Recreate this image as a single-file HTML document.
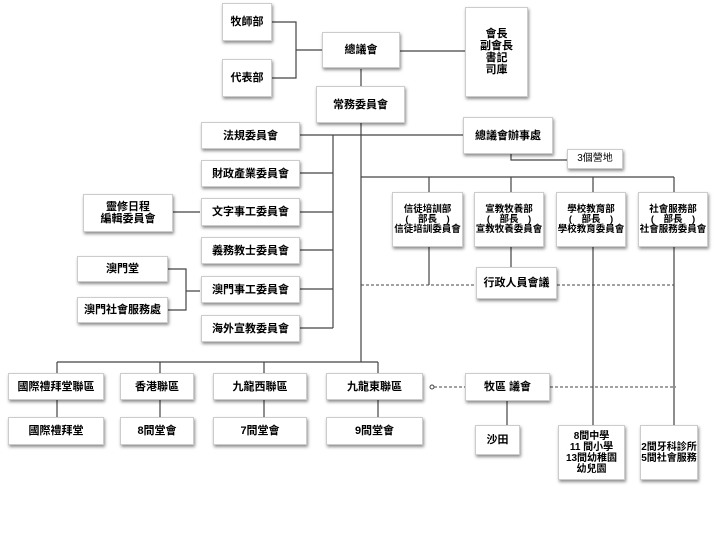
<!DOCTYPE html>
<html><head><meta charset="utf-8"><style>
body{margin:0;width:720px;height:541px;background:#fff;position:relative;overflow:hidden;font-family:"Liberation Sans","Noto Sans CJK TC",sans-serif;}
.b{position:absolute;background:#fff;border:1px solid #ccc;box-shadow:1px 2px 3px rgba(0,0,0,.45);display:flex;align-items:center;justify-content:center;text-align:center;font-size:11px;font-weight:bold;color:#000;line-height:12px;box-sizing:border-box;}
.s{font-size:9.5px;line-height:10px;font-weight:bold}
svg{position:absolute;left:0;top:0}
</style></head><body>
<svg width="720" height="541">
<g stroke="#444" stroke-width="1.2" fill="none">
<path d="M272 22H296V78H272M296 50H322"/>
<path d="M400 51H465"/>
<path d="M361 69V362"/>
<path d="M300 135H463"/>
<path d="M511 154V160H567"/>
<path d="M300 173H333M300 212H333M300 250H333M300 289H333M300 328H333M333 135V328"/>
<path d="M173 212H200"/>
<path d="M168 269H186V310H168M186 291H200"/>
<path d="M361 177H674M429 177V192M511 177V192M593 177V192M674 177V192"/>
<path d="M429 247V285M511 247V267M593 247V425M674 247V425"/>
<path d="M57 362H378M57 362V373M160 362V373M264 362V373M378 362V373"/>
<path d="M57 400V417M160 400V417M264 400V417M378 400V417"/>
<path d="M507 401V425"/>
</g>
<g stroke="#444" stroke-width="1" stroke-dasharray="3,2" fill="none">
<path d="M361 285H476M557 285H674"/>
<path d="M434 387H465M550 387H676"/>
</g>
<circle cx="432" cy="387" r="2" fill="#fff" stroke="#444"/>
</svg>
<div class="b" style="left:222px;top:3px;width:50px;height:38px">牧師部</div>
<div class="b" style="left:222px;top:59px;width:50px;height:38px">代表部</div>
<div class="b" style="left:322px;top:32px;width:78px;height:36px">總議會</div>
<div class="b" style="left:465px;top:7px;width:63px;height:90px">會長<br>副會長<br>書記<br>司庫</div>
<div class="b" style="left:316px;top:86px;width:89px;height:37px">常務委員會</div>
<div class="b" style="left:201px;top:122px;width:99px;height:27px">法規委員會</div>
<div class="b" style="left:463px;top:117px;width:90px;height:37px">總議會辦事處</div>
<div class="b" style="left:567px;top:149px;width:56px;height:20px;font-weight:normal;font-size:10px">3個營地</div>
<div class="b" style="left:201px;top:160px;width:99px;height:27px">財政產業委員會</div>
<div class="b" style="left:83px;top:194px;width:90px;height:38px">靈修日程<br>編輯委員會</div>
<div class="b" style="left:201px;top:198px;width:99px;height:28px">文字事工委員會</div>
<div class="b" style="left:201px;top:237px;width:99px;height:27px">義務教士委員會</div>
<div class="b" style="left:77px;top:256px;width:91px;height:26px">澳門堂</div>
<div class="b" style="left:77px;top:297px;width:91px;height:26px">澳門社會服務處</div>
<div class="b" style="left:201px;top:276px;width:99px;height:27px">澳門事工委員會</div>
<div class="b" style="left:201px;top:315px;width:99px;height:27px">海外宣教委員會</div>
<div class="b s" style="left:392px;top:192px;width:71px;height:55px">信徒培訓部<br>(　部長　)<br>信徒培訓委員會</div>
<div class="b s" style="left:474px;top:192px;width:70px;height:55px">宣教牧養部<br>(　部長　)<br>宣教牧養委員會</div>
<div class="b s" style="left:556px;top:192px;width:70px;height:55px">學校教育部<br>(　部長　)<br>學校教育委員會</div>
<div class="b s" style="left:638px;top:192px;width:70px;height:55px">社會服務部<br>(　部長　)<br>社會服務委員會</div>
<div class="b" style="left:476px;top:267px;width:81px;height:32px">行政人員會議</div>
<div class="b" style="left:8px;top:373px;width:96px;height:27px">國際禮拜堂聯區</div>
<div class="b" style="left:120px;top:373px;width:74px;height:27px">香港聯區</div>
<div class="b" style="left:213px;top:373px;width:94px;height:27px">九龍西聯區</div>
<div class="b" style="left:326px;top:373px;width:97px;height:27px">九龍東聯區</div>
<div class="b" style="left:8px;top:417px;width:96px;height:28px">國際禮拜堂</div>
<div class="b" style="left:120px;top:417px;width:74px;height:28px">8間堂會</div>
<div class="b" style="left:213px;top:417px;width:94px;height:28px">7間堂會</div>
<div class="b" style="left:326px;top:417px;width:97px;height:28px">9間堂會</div>
<div class="b" style="left:465px;top:373px;width:85px;height:28px">牧區 議會</div>
<div class="b" style="left:475px;top:425px;width:45px;height:30px">沙田</div>
<div class="b s" style="left:558px;top:425px;width:67px;height:55px;font-size:10px;line-height:11px">8間中學<br>11 間小學<br>13間幼稚園<br>幼兒園</div>
<div class="b s" style="left:640px;top:425px;width:58px;height:55px;font-size:10px;line-height:11px">2間牙科診所<br>5間社會服務</div>
</body></html>
